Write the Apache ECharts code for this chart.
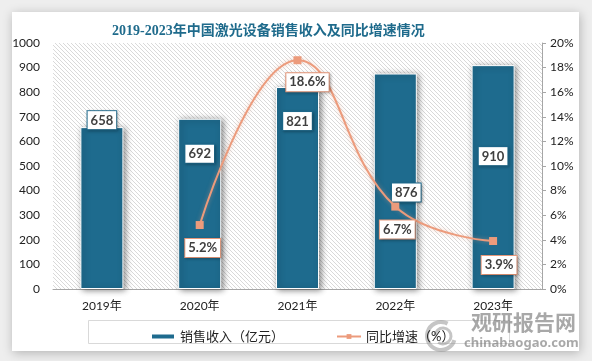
<!DOCTYPE html>
<html>
<head>
<meta charset="utf-8">
<script src="https://cdn.jsdelivr.net/npm/echarts@6/dist/echarts.min.js"></script>
<style>
html,body{margin:0;padding:0;background:#eeeeee;}
#c{width:592px;height:361px;}
</style>
</head>
<body>
<div id="c"></div>
<script>
const categories = ['2019年', '2020年', '2021年', '2022年', '2023年'];
const revenue = [658, 692, 821, 876, 910];
const growth = [null, 5.2, 18.6, 6.7, 3.9];
const leftTicks = { min: 0, max: 1000, interval: 100 };
const rightTicks = { min: 0, max: 20, interval: 2 };
const titleText = '2019-2023年中国激光设备销售收入及同比增速情况';
const seriesNames = ['销售收入（亿元）', '同比增速（%）'];

// label placement (layout only)
const barLabelOffsets = [[0, 7], [0, 49], [0, 48], [11, 133], [0, 105]];
const lineLabelOffsets = [null, [3, 23], [10, 22], [2, 23], [6, 24]];

const FONT = 'Lato, "Noto Sans CJK SC", sans-serif';
const BAR = '#1E6B8E';
const LINE = '#EC9B7C';

// hatch pattern
const pc = document.createElement('canvas');
pc.width = 4; pc.height = 4;
const g = pc.getContext('2d');
g.fillStyle = '#ffffff'; g.fillRect(0, 0, 4, 4);
g.strokeStyle = '#d9d9d9'; g.lineWidth = 1;
g.beginPath();
g.moveTo(0, 0); g.lineTo(4, 4);
g.moveTo(-2, 2); g.lineTo(2, 6);
g.moveTo(2, -2); g.lineTo(6, 2);
g.stroke();

const labelBase = {
  show: true, fontFamily: FONT, fontSize: 13, fontWeight: 'bold', color: '#404040',
  backgroundColor: '#fff', borderWidth: 1, padding: [3, 3, 2, 3],
  shadowBlur: 3, shadowColor: 'rgba(0,0,0,0.25)', shadowOffsetX: 1, shadowOffsetY: 1
};

const barData = revenue.map((v, i) => ({
  value: v,
  label: Object.assign({}, labelBase, {
    position: 'top', distance: 5, offset: barLabelOffsets[i], borderColor: BAR
  })
}));
const lineData = growth.map((v, i) => v == null ? '-' : ({
  value: v,
  label: Object.assign({}, labelBase, {
    position: 'inside', offset: lineLabelOffsets[i], borderColor: LINE,
    formatter: p => p.value.toFixed(1) + '%'
  })
}));

const chart = echarts.init(document.getElementById('c'), null, { renderer: 'canvas' });
chart.setOption({
  animation: false,
  backgroundColor: '#eeeeee',
  textStyle: { fontFamily: FONT },
  graphic: [
    { type: 'rect', z: -10, shape: { x: 12, y: 12, width: 567, height: 339 },
      style: { fill: '#fff', shadowBlur: 10, shadowColor: 'rgba(0,0,0,0.25)', shadowOffsetX: 1, shadowOffsetY: 2 } },
    { type: 'rect', z: -5, shape: { x: 88.5, y: 320.5, width: 421, height: 23 },
      style: { fill: 'none', stroke: '#d9d9d9', lineWidth: 1 } },
    { type: 'group', z: 100, children: [
      { type: 'arc', shape: { cx: 441, cy: 336, r: 14, startAngle: 0.3, endAngle: 5.2 },
        style: { stroke: 'rgba(150,150,150,0.55)', lineWidth: 4, fill: 'none' } },
      { type: 'arc', shape: { cx: 443, cy: 336, r: 8, startAngle: 3.2, endAngle: 8.5 },
        style: { stroke: 'rgba(150,150,150,0.55)', lineWidth: 3, fill: 'none' } },
      { type: 'text', style: { x: 471, y: 322, text: '观研报告网', font: 'bold 21px "Noto Sans CJK SC"', fill: 'rgba(110,110,110,0.6)', textVerticalAlign: 'middle' } },
      { type: 'text', style: { x: 464, y: 343, text: 'chinabaogao.com', font: 'bold 13px "Noto Sans", sans-serif', fill: 'rgba(110,110,110,0.6)', textVerticalAlign: 'middle' } }
    ] }
  ],
  title: {
    text: titleText, left: 107, top: 19,
    textStyle: { fontFamily: '"Liberation Serif", "Noto Sans CJK SC", serif', fontSize: 14, fontWeight: 'bold', color: '#1F6B8C' }
  },
  legend: {
    left: 145, top: 325, itemGap: 52, itemWidth: 24, itemHeight: 6,
    textStyle: { fontSize: 13, color: '#222', fontFamily: FONT },
    data: [
      { name: seriesNames[0], icon: 'rect' },
      { name: seriesNames[1] }
    ]
  },
  grid: {
    left: 53, right: 50, top: 43, bottom: 72, show: true, borderWidth: 0,
    backgroundColor: { image: pc, repeat: 'repeat' }
  },
  xAxis: {
    type: 'category', data: categories,
    axisLine: { lineStyle: { color: '#a6a6a6' } },
    axisTick: { show: false },
    axisLabel: { color: '#222', fontSize: 12, margin: 11 }
  },
  yAxis: [
    { type: 'value', min: leftTicks.min, max: leftTicks.max, interval: leftTicks.interval,
      axisLine: { show: false }, axisTick: { show: false }, splitLine: { show: false },
      axisLabel: { color: '#222', fontSize: 12, margin: 13, formatter: v => String(v) } },
    { type: 'value', position: 'right', min: rightTicks.min, max: rightTicks.max, interval: rightTicks.interval,
      axisLine: { show: true, lineStyle: { color: '#a6a6a6' } },
      axisTick: { show: true, inside: false, length: 4, lineStyle: { color: '#a6a6a6' } },
      splitLine: { show: false },
      axisLabel: { color: '#222', fontSize: 12, margin: 8, formatter: '{value}%' } }
  ],
  series: [
    { name: seriesNames[0], type: 'bar', data: barData, barWidth: '44%',
      itemStyle: { color: BAR, borderColor: '#fff', borderWidth: 1,
        shadowBlur: 6, shadowColor: 'rgba(0,0,0,0.45)', shadowOffsetX: 2, shadowOffsetY: 1 } },
    { name: seriesNames[1], type: 'line', yAxisIndex: 1, data: lineData, smooth: 0.45,
      symbol: 'rect', symbolSize: 8, showAllSymbol: true,
      lineStyle: { color: LINE, width: 2, shadowBlur: 4, shadowColor: 'rgba(236,155,124,0.5)' },
      itemStyle: { color: LINE } }
  ]
});
</script>
</body>
</html>
